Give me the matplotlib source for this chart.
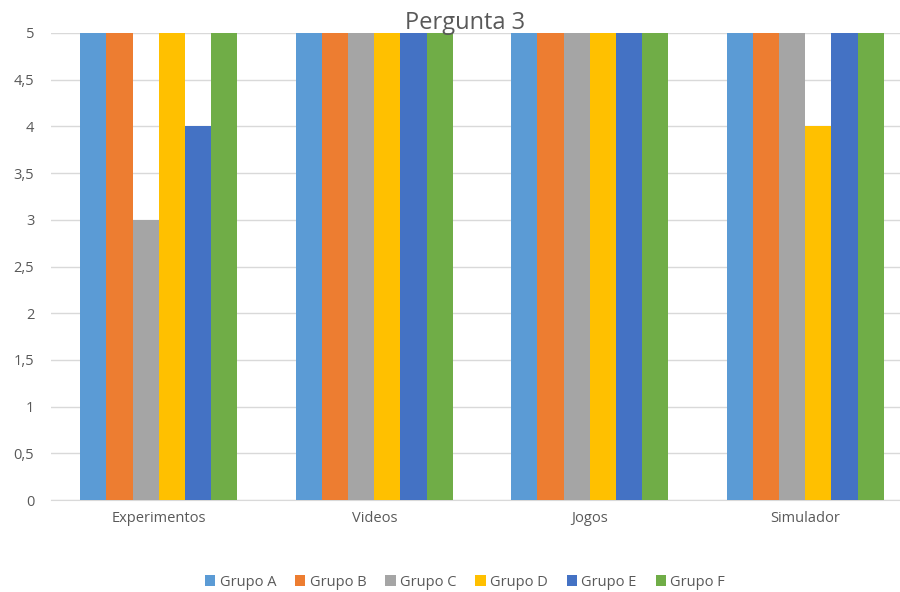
import numpy as np
import matplotlib.pyplot as plt
from matplotlib.ticker import FuncFormatter

plt.rcParams['font.family'] = ['Open Sans', 'DejaVu Sans']

categorias = ['Experimentos', 'Videos', 'Jogos', 'Simulador']
grupos = ['Grupo A', 'Grupo B', 'Grupo C', 'Grupo D', 'Grupo E', 'Grupo F']
valores = {
    'Grupo A': [5, 5, 5, 5],
    'Grupo B': [5, 5, 5, 5],
    'Grupo C': [3, 5, 5, 5],
    'Grupo D': [5, 5, 5, 4],
    'Grupo E': [4, 5, 5, 5],
    'Grupo F': [5, 5, 5, 5],
}
cores = ['#5B9BD5', '#ED7D31', '#A5A5A5', '#FFC000', '#4472C4', '#70AD47']

fig = plt.figure(figsize=(9, 5.92), dpi=100)
ax = fig.add_axes([51 / 900, 1 - 500 / 592, 862 / 900, 467 / 592])

x = np.arange(len(categorias))
largura = 0.73 / len(grupos)
for i, g in enumerate(grupos):
    ax.bar(x + (i - 2.5) * largura, valores[g], width=largura, color=cores[i],
           label=g, zorder=3)

ax.set_xlim(-0.5, len(categorias) - 0.5)
ax.set_ylim(0, 5)
ax.set_yticks(np.arange(0, 5.01, 0.5))
ax.yaxis.set_major_formatter(FuncFormatter(lambda v, p: ('%g' % v).replace('.', ',')))
ax.set_xticks(x)
ax.set_xticklabels(categorias)
ax.grid(axis='y', color='#D9D9D9', linewidth=1, zorder=0)
for s in ['top', 'right', 'left']:
    ax.spines[s].set_visible(False)
ax.spines['bottom'].set_color('#D9D9D9')
ax.tick_params(axis='both', length=0, labelsize=10.5, colors='#595959')
ax.tick_params(axis='y', pad=12)
ax.tick_params(axis='x', pad=8)

fig.text(465 / 900, 1 - 23 / 592, 'Pergunta 3', ha='center', va='center',
         fontsize=17, color='#595959')

fig.legend(loc='center', bbox_to_anchor=(465 / 900, 1 - 582 / 592), ncol=6,
           frameon=False, fontsize=10.5, handlelength=0.7, handleheight=0.7,
           handletextpad=0.3, columnspacing=1.3, labelcolor='#595959')

fig.savefig('out.png', dpi=100)
